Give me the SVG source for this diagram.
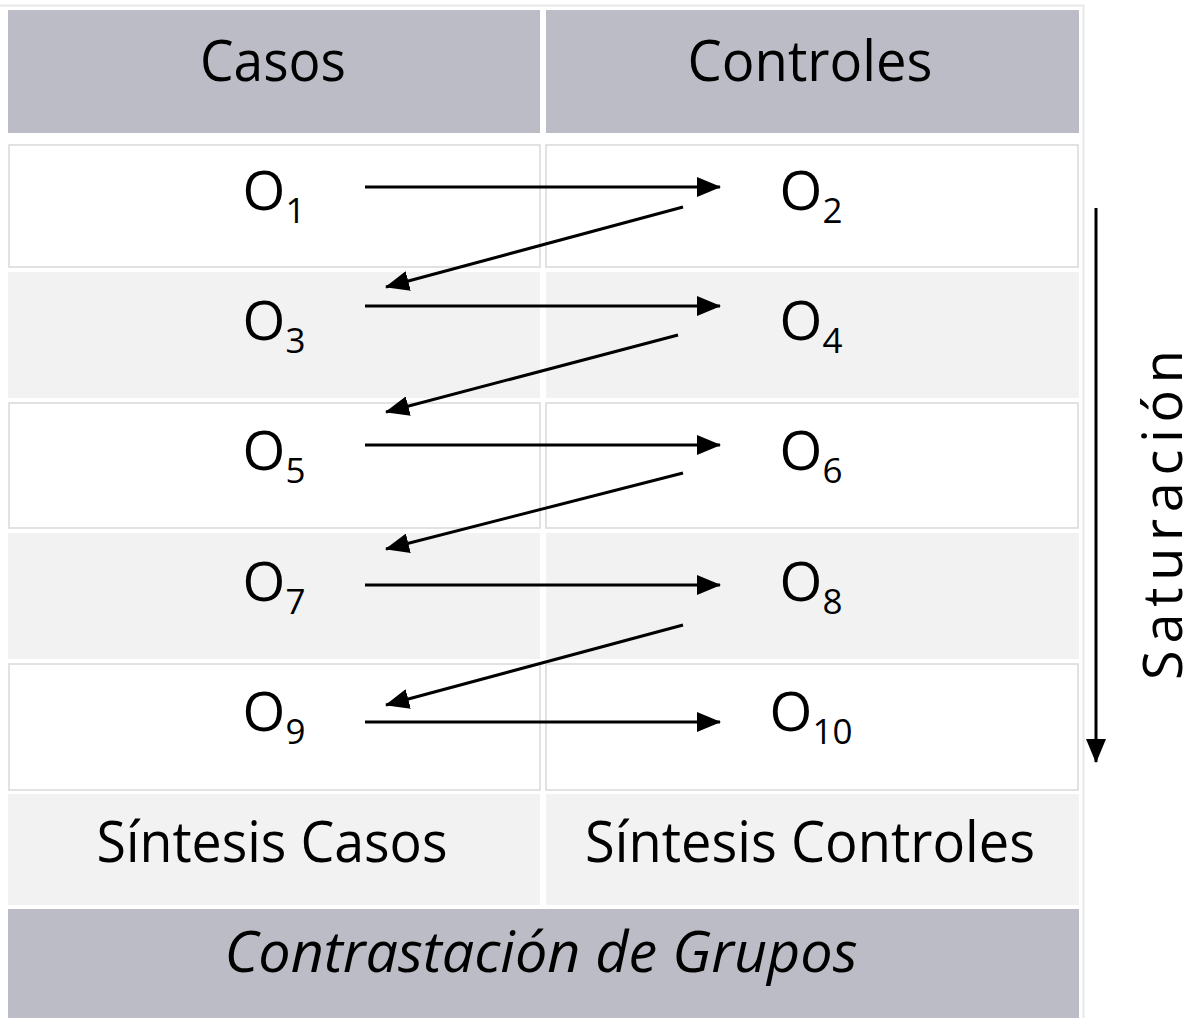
<svg xmlns="http://www.w3.org/2000/svg" width="1199" height="1018" viewBox="0 0 1199 1018">
<style>
.hdr{fill:#bcbcc6}
.wht{fill:#ffffff;stroke:#d9d9d9;stroke-width:1.5}
.gry{fill:#f2f2f2}
.t{font-family:"Open Sans","Noto Sans","Liberation Sans",sans-serif;fill:#000;text-anchor:middle}
.o{font-size:55px}
.sub{font-size:35px}
.big{font-size:56px}
.arr{stroke:#000;stroke-width:3;fill:none;marker-end:url(#ah)}
</style>
<defs>
<marker id="ah" markerUnits="userSpaceOnUse" markerWidth="24" markerHeight="20" refX="23" refY="10" orient="auto">
<path d="M0,0 L24,10 L0,20 z" fill="#000"/>
</marker>
</defs>
<rect width="1199" height="1018" fill="#fff"/>
<path d="M0,5.5 H1083.5 V1018" fill="none" stroke="#e8e8e8" stroke-width="2"/>

<g id="header-casos"><rect class="hdr" x="8" y="10" width="532" height="123"/><text class="t big" x="273" y="81" textLength="146" lengthAdjust="spacingAndGlyphs">Casos</text></g>
<g id="header-controles"><rect class="hdr" x="546" y="10" width="533" height="123"/><text class="t big" x="810" y="81" textLength="245" lengthAdjust="spacingAndGlyphs">Controles</text></g>

<g id="row1-bg"><rect class="wht" x="9" y="145" width="531" height="122"/><rect class="wht" x="546" y="145" width="532" height="122"/></g>
<g id="row2-bg"><rect class="gry" x="8" y="272" width="532" height="126"/><rect class="gry" x="546" y="272" width="533" height="126"/></g>
<g id="row3-bg"><rect class="wht" x="9" y="403" width="531" height="125"/><rect class="wht" x="546" y="403" width="532" height="125"/></g>
<g id="row4-bg"><rect class="gry" x="8" y="533" width="532" height="126"/><rect class="gry" x="546" y="533" width="533" height="126"/></g>
<g id="row5-bg"><rect class="wht" x="9" y="664" width="531" height="126"/><rect class="wht" x="546" y="664" width="532" height="126"/></g>

<g id="O1"><text class="t o" x="274" y="210">O<tspan class="sub" dy="13">1</tspan></text></g>
<g id="O2"><text class="t o" x="811" y="210">O<tspan class="sub" dy="13">2</tspan></text></g>
<g id="O3"><text class="t o" x="274" y="340">O<tspan class="sub" dy="13">3</tspan></text></g>
<g id="O4"><text class="t o" x="811" y="340">O<tspan class="sub" dy="13">4</tspan></text></g>
<g id="O5"><text class="t o" x="274" y="470">O<tspan class="sub" dy="13">5</tspan></text></g>
<g id="O6"><text class="t o" x="811" y="470">O<tspan class="sub" dy="13">6</tspan></text></g>
<g id="O7"><text class="t o" x="274" y="601">O<tspan class="sub" dy="13">7</tspan></text></g>
<g id="O8"><text class="t o" x="811" y="601">O<tspan class="sub" dy="13">8</tspan></text></g>
<g id="O9"><text class="t o" x="274" y="731">O<tspan class="sub" dy="13">9</tspan></text></g>
<g id="O10"><text class="t o" x="811" y="731">O<tspan class="sub" dy="13">10</tspan></text></g>

<g id="sintesis-casos"><rect class="gry" x="8" y="794" width="532" height="111"/><text class="t big" x="272" y="862" textLength="351" lengthAdjust="spacingAndGlyphs">Síntesis Casos</text></g>
<g id="sintesis-controles"><rect class="gry" x="546" y="794" width="533" height="111"/><text class="t big" x="810" y="862" textLength="450" lengthAdjust="spacingAndGlyphs">Síntesis Controles</text></g>
<g id="contrastacion"><rect class="hdr" x="8" y="909" width="1071" height="109"/><text class="t big" x="541" y="972" font-style="italic" textLength="633" lengthAdjust="spacingAndGlyphs">Contrastación de Grupos</text></g>

<g id="saturacion"><text class="t" font-size="54" transform="translate(1182,515) rotate(-90)" x="0" y="0" textLength="330" lengthAdjust="spacing">Saturación</text></g>

<g id="connectors">
<line class="arr" x1="365" y1="187" x2="720" y2="187"/>
<line class="arr" x1="683" y1="207" x2="386" y2="287"/>
<line class="arr" x1="365" y1="306" x2="720" y2="306"/>
<line class="arr" x1="678" y1="335" x2="386" y2="412"/>
<line class="arr" x1="365" y1="445" x2="720" y2="445"/>
<line class="arr" x1="683" y1="473" x2="386" y2="549"/>
<line class="arr" x1="365" y1="585" x2="720" y2="585"/>
<line class="arr" x1="683" y1="625" x2="386" y2="705"/>
<line class="arr" x1="365" y1="722" x2="720" y2="722"/>
<line class="arr" x1="1096" y1="208" x2="1096" y2="762"/>
</g>
</svg>
